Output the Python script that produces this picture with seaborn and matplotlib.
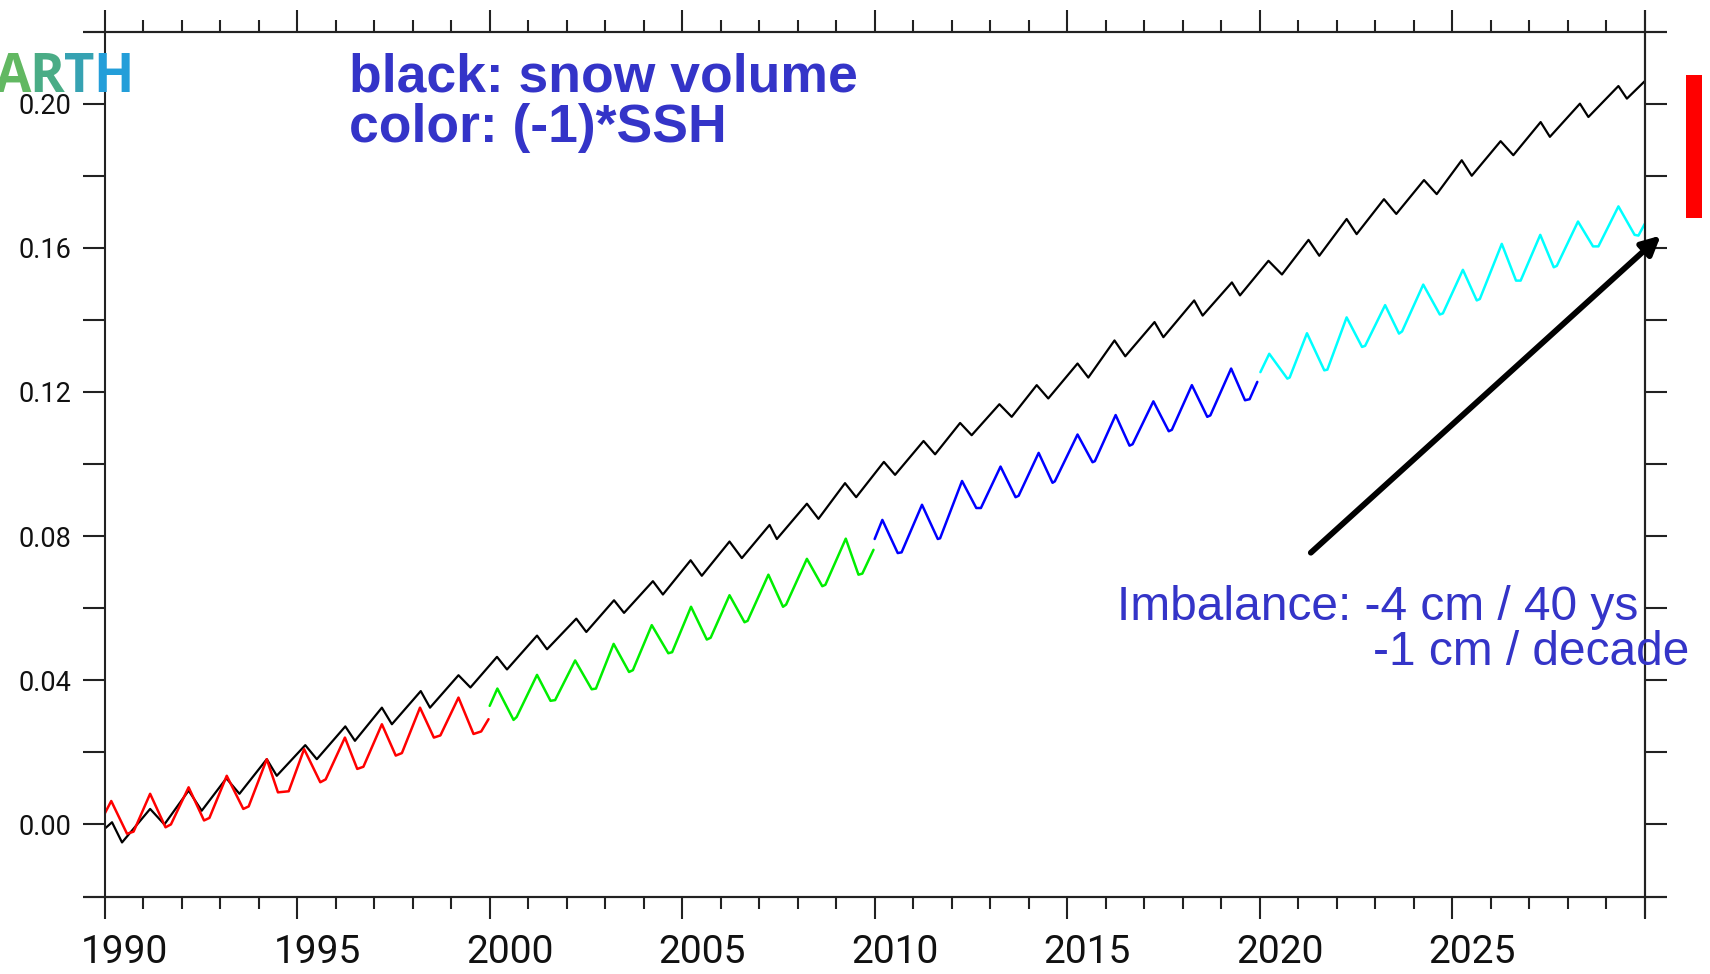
import numpy as np
import pandas as pd
import matplotlib
matplotlib.use("Agg")
import matplotlib.pyplot as plt
import matplotlib.transforms as mtransforms
from matplotlib.patches import Rectangle
from matplotlib.ticker import MultipleLocator, FixedLocator
import seaborn as sns

# ---------------- data ----------------
black_t = [1990.00, 1990.19, 1990.45, 1991.18, 1991.55, 1992.18, 1992.52, 1993.16, 1993.50,
           1994.21, 1994.47, 1995.21, 1995.51, 1996.25, 1996.50, 1997.20, 1997.46, 1998.21,
           1998.45, 1999.19, 1999.50, 2000.19, 2000.45, 2001.23, 2001.49, 2002.25, 2002.51,
           2003.23, 2003.49, 2004.24, 2004.50, 2005.22, 2005.51, 2006.23, 2006.55, 2007.27,
           2007.46, 2008.24, 2008.54, 2009.23, 2009.52, 2010.24, 2010.53, 2011.27, 2011.57,
           2012.22, 2012.52, 2013.24, 2013.56, 2014.21, 2014.51, 2015.27, 2015.55, 2016.23,
           2016.51, 2017.27, 2017.50, 2018.30, 2018.52, 2019.28, 2019.49, 2020.23, 2020.58,
           2021.27, 2021.55, 2022.26, 2022.52, 2023.23, 2023.55, 2024.27, 2024.60, 2025.25,
           2025.51, 2026.26, 2026.59, 2027.30, 2027.54, 2028.32, 2028.54, 2029.32, 2029.54,
           2030.00]
black_v = [-0.0012, 0.0006, -0.0050, 0.0043, 0.0000, 0.0094, 0.0038, 0.0128, 0.0085,
           0.0181, 0.0135, 0.0220, 0.0181, 0.0272, 0.0232, 0.0324, 0.0278, 0.0370,
           0.0324, 0.0414, 0.0380, 0.0465, 0.0430, 0.0524, 0.0486, 0.0571, 0.0534,
           0.0622, 0.0587, 0.0675, 0.0638, 0.0733, 0.0690, 0.0785, 0.0739, 0.0831,
           0.0792, 0.0890, 0.0848, 0.0947, 0.0908, 0.1006, 0.0970, 0.1064, 0.1027,
           0.1114, 0.1080, 0.1166, 0.1131, 0.1219, 0.1182, 0.1279, 0.1240, 0.1343,
           0.1299, 0.1394, 0.1352, 0.1454, 0.1412, 0.1504, 0.1468, 0.1564, 0.1526,
           0.1622, 0.1578, 0.1680, 0.1638, 0.1735, 0.1694, 0.1788, 0.1749, 0.1843,
           0.1800, 0.1896, 0.1857, 0.1949, 0.1908, 0.2000, 0.1963, 0.2049, 0.2014,
           0.2062]

red_t = [1990.00, 1990.17, 1990.58, 1990.75, 1991.18, 1991.58, 1991.72, 1992.18, 1992.58, 1992.72,
         1993.17, 1993.60, 1993.74, 1994.21, 1994.50, 1994.78, 1995.18, 1995.60, 1995.74,
         1996.24, 1996.56, 1996.72, 1997.20, 1997.56, 1997.72, 1998.19, 1998.55, 1998.72,
         1999.19, 1999.58, 1999.78, 1999.97]
red_v = [0.0030, 0.0065, -0.0026, -0.0020, 0.0085, -0.0008, 0.0000, 0.0103, 0.0011, 0.0018,
         0.0135, 0.0043, 0.0050, 0.0181, 0.0089, 0.0092, 0.0209, 0.0117, 0.0125,
         0.0241, 0.0154, 0.0160, 0.0278, 0.0191, 0.0198, 0.0324, 0.0241, 0.0247,
         0.0352, 0.0251, 0.0258, 0.0292]

green_t = [2000.00, 2000.20, 2000.62, 2000.70, 2001.23, 2001.58, 2001.70, 2002.22, 2002.65, 2002.76,
           2003.22, 2003.62, 2003.72, 2004.21, 2004.64, 2004.74, 2005.23, 2005.64, 2005.74,
           2006.23, 2006.62, 2006.70, 2007.24, 2007.62, 2007.70, 2008.24, 2008.64, 2008.72,
           2009.25, 2009.58, 2009.68, 2009.97]
green_v = [0.0329, 0.0377, 0.0290, 0.0298, 0.0415, 0.0343, 0.0345, 0.0455, 0.0375, 0.0377,
           0.0501, 0.0423, 0.0428, 0.0553, 0.0475, 0.0478, 0.0604, 0.0513, 0.0518,
           0.0636, 0.0561, 0.0565, 0.0693, 0.0604, 0.0610, 0.0737, 0.0661, 0.0665,
           0.0793, 0.0693, 0.0696, 0.0762]

blue_t = [2010.00, 2010.20, 2010.60, 2010.70, 2011.23, 2011.64, 2011.70, 2012.27, 2012.64, 2012.76,
          2013.27, 2013.66, 2013.74, 2014.26, 2014.62, 2014.68, 2015.27, 2015.66, 2015.72,
          2016.26, 2016.62, 2016.70, 2017.24, 2017.64, 2017.72, 2018.24, 2018.64, 2018.72,
          2019.26, 2019.62, 2019.74, 2019.94]
blue_v = [0.0792, 0.0845, 0.0753, 0.0755, 0.0887, 0.0792, 0.0794, 0.0953, 0.0878, 0.0878,
          0.0993, 0.0908, 0.0912, 0.1031, 0.0948, 0.0952, 0.1082, 0.1005, 0.1008,
          0.1136, 0.1051, 0.1055, 0.1174, 0.1091, 0.1095, 0.1219, 0.1131, 0.1135,
          0.1265, 0.1177, 0.1180, 0.1228]

cyan_t = [2020.02, 2020.25, 2020.72, 2020.78, 2021.23, 2021.68, 2021.76, 2022.26, 2022.66, 2022.74,
          2023.26, 2023.62, 2023.70, 2024.25, 2024.68, 2024.76, 2025.28, 2025.64, 2025.72,
          2026.29, 2026.66, 2026.78, 2027.29, 2027.64, 2027.72, 2028.27, 2028.66, 2028.80,
          2029.32, 2029.74, 2029.84, 2030.00]
cyan_v = [0.1255, 0.1306, 0.1237, 0.1240, 0.1363, 0.1260, 0.1262, 0.1407, 0.1325, 0.1328,
          0.1441, 0.1362, 0.1368, 0.1498, 0.1415, 0.1418, 0.1539, 0.1454, 0.1458,
          0.1611, 0.1509, 0.1509, 0.1636, 0.1546, 0.1550, 0.1673, 0.1604, 0.1604,
          0.1715, 0.1636, 0.1634, 0.1666]

segment_names = ["1990s", "2000s", "2010s", "2020s"]
segment_colors = ["#ff0000", "#00ee00", "#0000ff", "#00ffff"]

x_ticks = [1990, 1995, 2000, 2005, 2010, 2015, 2020, 2025, 2030]
x_labels = ["1990", "1995", "2000", "2005", "2010", "2015", "2020", "2025", ""]
y_ticks = [0.00, 0.04, 0.08, 0.12, 0.16, 0.20]
y_labels = ["0.00", "0.04", "0.08", "0.12", "0.16", "0.20"]

title_lines = ["black: snow volume", "color: (-1)*SSH"]
note_lines = ["Imbalance: -4 cm / 40 ys", "-1 cm / decade"]
logo_letters = ["A", "R", "T", "H"]
logo_colors = ["#62b862", "#4aac86", "#36a2b2", "#239ed9"]

# ---------------- frames ----------------
df_black = pd.DataFrame({"t": black_t, "v": black_v})
seg_t = [red_t, green_t, blue_t, cyan_t]
seg_v = [red_v, green_v, blue_v, cyan_v]
df_col = pd.concat(
    [pd.DataFrame({"t": t, "v": v, "seg": n}) for t, v, n in zip(seg_t, seg_v, segment_names)],
    ignore_index=True)

# ---------------- figure ----------------
sns.set_style("white")
plt.rcParams["font.family"] = ["DejaVu Sans"]

W, H = 1710, 974
fig = plt.figure(figsize=(W / 100, H / 100), dpi=100)
ax = fig.add_axes([104.7 / W, 1 - 896.5 / H, (1644.6 - 104.7) / W, (896.5 - 31.6) / H])

sns.lineplot(data=df_black, x="t", y="v", ax=ax, color="black", lw=1.6,
             estimator=None, sort=False, legend=False)
sns.lineplot(data=df_col, x="t", y="v", hue="seg", ax=ax,
             palette=dict(zip(segment_names, segment_colors)), lw=1.8,
             estimator=None, sort=False, legend=False)

ax.set_xlim(1990, 2030)
ax.set_ylim(-0.02, 0.22)
ax.set_xlabel("")
ax.set_ylabel("")

spine_c = "#222222"
for s in ax.spines.values():
    s.set_color(spine_c)
    s.set_linewidth(1.5)
    s.set_visible(True)

ax.xaxis.set_major_locator(FixedLocator(x_ticks))
ax.xaxis.set_minor_locator(MultipleLocator(1))
ax.set_xticklabels(x_labels)
ax.yaxis.set_major_locator(FixedLocator(y_ticks))
ax.yaxis.set_minor_locator(MultipleLocator(0.02))
ax.set_yticklabels(y_labels)

ax.tick_params(axis="x", which="major", direction="out", length=16, width=1.5, color=spine_c,
               top=True, bottom=True, labeltop=False, pad=11, labelsize=28, labelcolor="#111111")
ax.tick_params(axis="x", which="minor", direction="out", length=8.6, width=1.5, color=spine_c,
               top=True, bottom=True)
ax.tick_params(axis="y", which="both", direction="out", length=16, width=1.5, color=spine_c,
               left=True, right=True, labelright=False, pad=8, labelsize=19.5, labelcolor="#111111")

for lab in ax.get_xticklabels() + ax.get_yticklabels():
    lab.set_fontfamily("Roboto")
    lab.set_fontweight("normal")

offset = mtransforms.ScaledTranslation(20 / 100, 0, fig.dpi_scale_trans)
for lab in ax.xaxis.get_majorticklabels():
    lab.set_transform(lab.get_transform() + offset)

# frame extensions (Ferret style axis lines)
hx = 22 / 1540
vy = 22 / 865
ax.plot([-hx, 1 + hx], [1, 1], transform=ax.transAxes, clip_on=False, color=spine_c, lw=1.5,
        solid_capstyle="butt")
ax.plot([-hx, 1 + hx], [0, 0], transform=ax.transAxes, clip_on=False, color=spine_c, lw=1.5,
        solid_capstyle="butt")
ax.plot([1, 1], [-vy, 1 + vy], transform=ax.transAxes, clip_on=False, color=spine_c, lw=1.5,
        solid_capstyle="butt")

# arrow
ax.annotate("", xy=(2030.42, 0.1634), xytext=(2021.33, 0.0754),
            arrowprops=dict(arrowstyle="-|>", color="black", lw=4.2, mutation_scale=28,
                            shrinkA=0, shrinkB=0),
            annotation_clip=False)

# texts
txt_c = "#3434c8"
fig.text(349 / W, 1 - 91.7 / H, title_lines[0], fontsize=38.5, fontweight="bold",
         family="Liberation Sans", color=txt_c, va="baseline", ha="left")
fig.text(349 / W, 1 - 141.7 / H, title_lines[1], fontsize=38.5, fontweight="bold",
         family="Liberation Sans", color=txt_c, va="baseline", ha="left")
fig.text(1117 / W, 1 - 619.5 / H, note_lines[0], fontsize=34.5,
         family="Liberation Sans", color=txt_c, va="baseline", ha="left")
fig.text(1689 / W, 1 - 665.3 / H, note_lines[1], fontsize=34.5,
         family="Liberation Sans", color=txt_c, va="baseline", ha="right")

# logo fragment
logo_x = [13, 47, 79, 113]
for ch, c, x in zip(logo_letters, logo_colors, logo_x):
    fig.text(x / W, 1 - 92 / H, ch, fontsize=38, fontweight="bold", family="Open Sans",
             color=c, va="baseline", ha="center")

# red bar on the right
fig.patches.append(Rectangle((1686 / W, 1 - 218 / H), 16 / W, 143 / H,
                             transform=fig.transFigure, color="#ff0000", lw=0))

fig.savefig("out.png", dpi=100, facecolor="white")
